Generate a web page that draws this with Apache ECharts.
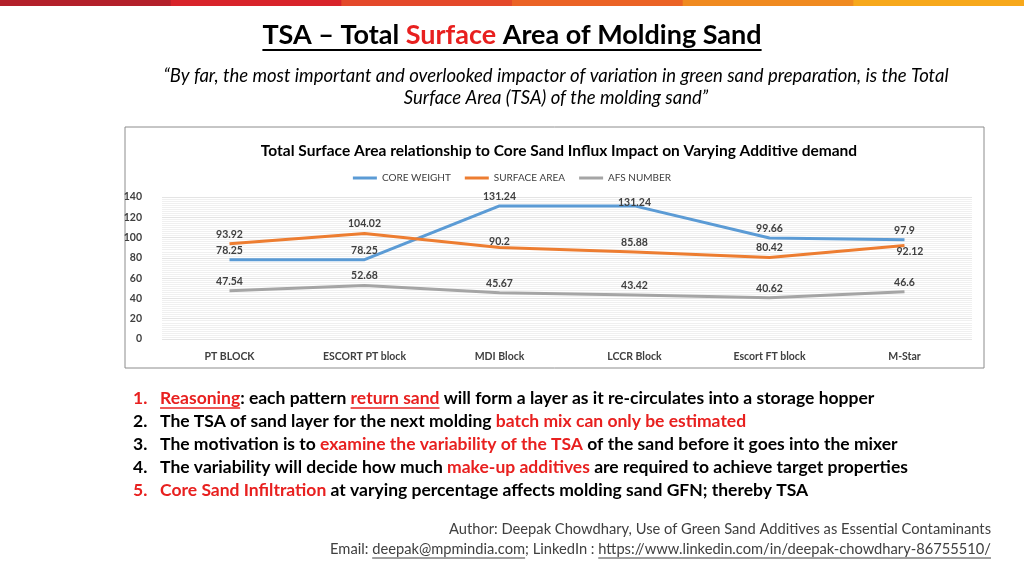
<!DOCTYPE html><html><head><meta charset="utf-8">
<script src="https://cdn.jsdelivr.net/npm/echarts@6/dist/echarts.min.js"></script>
<style>html,body{margin:0;background:#fff}#c{width:1024px;height:576px}</style></head><body><div id="c"></div>
<script>
const categories=['PT BLOCK','ESCORT PT block','MDI Block','LCCR Block','Escort FT block','M-Star'];
const coreWeight=[78.25,78.25,131.24,131.24,99.66,97.9];
const surfaceArea=[93.92,104.02,90.2,85.88,80.42,92.12];
const afsNumber=[47.54,52.68,45.67,43.42,40.62,46.6];
const stripeColors=['#b3202a','#d8232a','#e4492a','#eb6326','#f08a20','#f7a81b'];
const F='Lato, "Open Sans", sans-serif';
const ctx=document.createElement('canvas').getContext('2d');
function W(t,font){ctx.font=font;return ctx.measureText(t).width;}
const chart=echarts.init(document.getElementById('c'));
const g=[];
stripeColors.forEach((c,i)=>g.push({type:'rect',shape:{x:i*1024/6,y:0,width:1024/6+1,height:6},style:{fill:c},silent:true}));
g.push({type:'rect',shape:{x:125,y:127,width:859,height:241},style:{fill:'none',stroke:'#8c8c8c',lineWidth:1},z:-1});
const TF='bold 27px '+F;
const tw=W('TSA – Total Surface Area of Molding Sand',TF);
g.push({type:'text',x:512,y:35,style:{text:'{a|TSA – Total }{r|Surface}{a| Area of Molding Sand}',align:'center',verticalAlign:'middle',rich:{a:{fontFamily:F,fontSize:27,fontWeight:'bold',fill:'#000'},r:{fontFamily:F,fontSize:27,fontWeight:'bold',fill:'#e8201f'}}}});
g.push({type:'line',shape:{x1:512-tw/2,y1:50,x2:512+tw/2,y2:50},style:{stroke:'#000',lineWidth:2}});
g.push({type:'text',x:556,y:76,style:{text:'“By far, the most important and overlooked impactor of variation in green sand preparation, is the Total',align:'center',verticalAlign:'middle',font:'italic 18.5px '+F,fill:'#000'}});
g.push({type:'text',x:556,y:98,style:{text:'Surface Area (TSA) of the molding sand”',align:'center',verticalAlign:'middle',font:'italic 18.5px '+F,fill:'#000'}});
const BS=17.5, BF='bold '+BS+'px '+F;
const R={b:{fontFamily:F,fontSize:BS,fontWeight:'bold',fill:'#000'},r:{fontFamily:F,fontSize:BS,fontWeight:'bold',fill:'#e8201f'}};
const bullets=[
 '{r|1.   Reasoning}{b|: each pattern }{r|return sand}{b| will form a layer as it re-circulates into a storage hopper}',
 '{b|2.   The TSA of sand layer for the next molding }{r|batch mix can only be estimated}',
 '{b|3.   The motivation is to }{r|examine the variability of the TSA}{b| of the sand before it goes into the mixer}',
 '{b|4.   The variability will decide how much }{r|make-up additives}{b| are required to achieve target properties}',
 '{r|5.   Core Sand Infiltration}{b| at varying percentage affects molding sand GFN; thereby TSA}'];
const BX=133;
bullets.forEach((t,i)=>g.push({type:'text',x:BX,y:398+i*23,style:{text:t,verticalAlign:'middle',rich:R}}));
const u1=BX+W('1.   ',BF), u1e=BX+W('1.   Reasoning',BF);
const u2=BX+W('1.   Reasoning: each pattern ',BF), u2e=BX+W('1.   Reasoning: each pattern return sand',BF);
g.push({type:'line',shape:{x1:u1,y1:408,x2:u1e,y2:408},style:{stroke:'#e8201f',lineWidth:1.3}});
g.push({type:'line',shape:{x1:u2,y1:408,x2:u2e,y2:408},style:{stroke:'#e8201f',lineWidth:1.3}});
const FF='14.7px '+F;
const l2='Email: deepak@mpmindia.com; LinkedIn : https://www.linkedin.com/in/deepak-chowdhary-86755510/';
g.push({type:'text',x:991,y:529,style:{text:'Author: Deepak Chowdhary, Use of Green Sand Additives as Essential Contaminants',align:'right',verticalAlign:'middle',font:FF,fill:'#404040'}});
g.push({type:'text',x:991,y:549,style:{text:l2,align:'right',verticalAlign:'middle',font:FF,fill:'#404040'}});
const s0=991-W(l2,FF);
const e1=s0+W('Email: ',FF), e1e=s0+W('Email: deepak@mpmindia.com',FF), e2=s0+W('Email: deepak@mpmindia.com; LinkedIn : ',FF);
g.push({type:'line',shape:{x1:e1,y1:558,x2:e1e,y2:558},style:{stroke:'#404040',lineWidth:1}});
g.push({type:'line',shape:{x1:e2,y1:558,x2:991,y2:558},style:{stroke:'#404040',lineWidth:1}});
const lbl={show:true,position:'top',distance:4,fontFamily:F,fontSize:10.5,fontWeight:'bold',color:'#404040'};
function ser(name,data,color){return {name,type:'line',data,symbol:'circle',symbolSize:0,showSymbol:true,lineStyle:{width:3,color},itemStyle:{color},label:lbl};}
chart.setOption({
 animation:false,
 title:{text:'Total Surface Area relationship to Core Sand Influx Impact on Varying Additive demand',left:554,top:138,textAlign:'center',textStyle:{fontFamily:F,fontSize:15.5,fontWeight:'bold',color:'#000'}},
 legend:{top:168,left:'center',icon:'rect',itemWidth:24,itemHeight:3,itemGap:14,textStyle:{fontFamily:F,fontSize:10,color:'#404040'}},
 grid:{left:162,right:52,top:197,bottom:237},
 xAxis:{type:'category',data:categories,axisLine:{show:false},axisTick:{show:false},axisLabel:{fontFamily:F,fontSize:10.5,fontWeight:'bold',color:'#404040',margin:12}},
 yAxis:{type:'value',min:0,max:140,interval:20,axisLabel:{fontFamily:F,fontSize:10.5,fontWeight:'bold',color:'#404040',margin:20},
   splitLine:{lineStyle:{color:'#e4e4e4'}},minorTick:{show:false,splitNumber:10},minorSplitLine:{show:true,lineStyle:{color:'#f0f0f0'}}},
 series:[
  ser('CORE WEIGHT',coreWeight.map((v,i)=>i==3?{value:v,label:{position:'top',distance:-2}}:v),'#5b9bd5'),
  ser('SURFACE AREA',surfaceArea.map((v,i)=>i==5?{value:v,label:{position:'right',distance:2,offset:[-10,6]}}:(i==2?{value:v,label:{distance:0}}:v)),'#ed7d31'),
  ser('AFS NUMBER',afsNumber,'#a5a5a5')
 ],
 graphic:g
});
</script></body></html>
